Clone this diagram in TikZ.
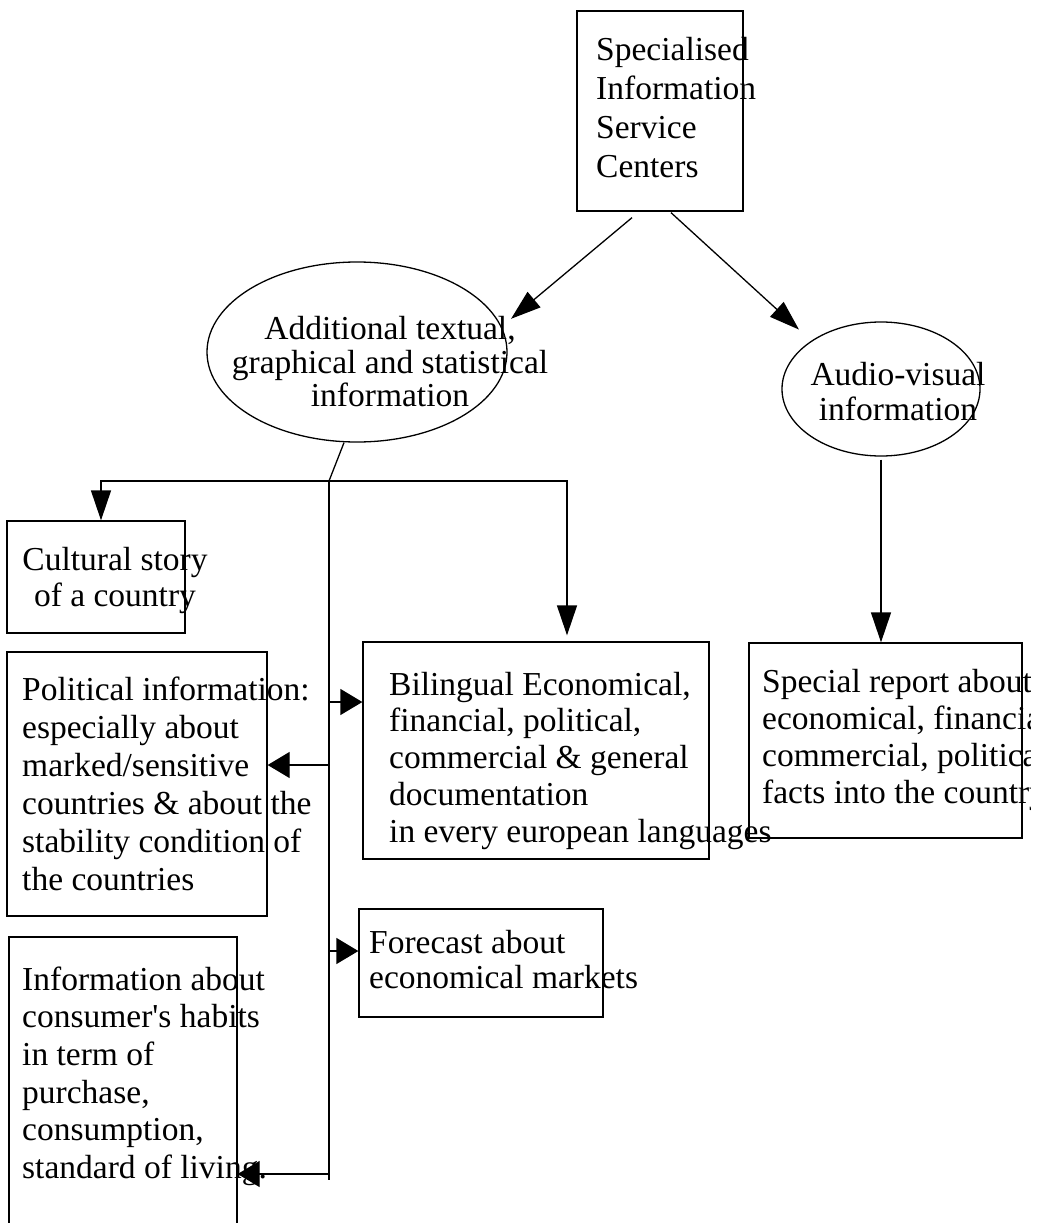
\documentclass[tikz,border=0pt]{standalone}
\usepackage{fontspec}
\setmainfont{Liberation Serif}
\usetikzlibrary{shapes.geometric,arrows.meta}
\tikzset{
  box/.style={draw=black, line width=1.3pt, rectangle, inner sep=0pt},
  oval/.style={draw=black, line width=1.3pt, ellipse, inner sep=0pt},
  txt/.style={anchor=north west, inner sep=0pt, align=left, font=\fontsize{33.5}{#1}\selectfont},
  ctxt/.style={anchor=north, inner sep=0pt, align=center, font=\fontsize{33.5}{#1}\selectfont},
  wire/.style={black, line width=1.3pt},
  arr/.style={wire, -{Triangle[length=30pt,width=20pt]}},
  side/.style={wire, -{Triangle[length=22pt,width=26pt]}}
}
\begin{document}
\begin{tikzpicture}[x=1pt,y=-1pt]
\useasboundingbox (0,0) rectangle (1041,1223);
\clip (0,0) rectangle (1030,1223);

\node[box, minimum width=166, minimum height=200] (centers) at (660,111) {};
\node[oval, minimum width=300, minimum height=180] (additional) at (357,352) {};
\node[oval, minimum width=198, minimum height=134] (audio) at (881,389) {};
\node[box, minimum width=178, minimum height=112] (cultural) at (96,577) {};
\node[box, minimum width=260, minimum height=264] (political) at (137,784) {};
\node[box, minimum width=346, minimum height=217] (bilingual) at (536,750.5) {};
\node[box, minimum width=273, minimum height=195] (special) at (885.5,740.5) {};
\node[box, minimum width=244, minimum height=108] (forecast) at (481,963) {};
\node[box, minimum width=228, minimum height=323] (info) at (123,1098.5) {};

\node[txt=39] (centersTxt) at (596,32.7) {\strut Specialised\\Information\\Service\\Centers};
\node[ctxt=33] (additionalTxt) at (390,315.9) {\strut Additional textual,\\graphical and statistical\\information};
\node[ctxt=35] (audioTxt) at (898,360.5) {\strut Audio-visual\\information};
\node[ctxt=36] (culturalTxt) at (115,544.8) {\strut Cultural story\\of a country};
\node[txt=38] (politicalTxt) at (22,673.4) {\strut Political information:\\especially about\\marked/sensitive\\countries \& about the\\stability condition of\\the countries};
\node[txt=36.75] (bilingualTxt) at (389,669.3) {\strut Bilingual Economical,\\financial, political,\\commercial \& general\\documentation\\in every european languages};
\node[txt=37] (specialTxt) at (762,666.1) {\strut Special report about\\economical, financial,\\commercial, political\\facts into the country};
\node[txt=35] (forecastTxt) at (369,928.5) {\strut Forecast about\\economical markets};
\node[txt=37.6] (infoTxt) at (22,963.7) {\strut Information about\\consumer\textquotesingle s habits\\in term of\\purchase,\\consumption,\\standard of living.};

\coordinate (split) at (329,481);
\coordinate (b1) at (329,702);
\coordinate (b2) at (329,765);
\coordinate (b3) at (329,951);
\coordinate (b4) at (329,1174);
\coordinate (trunkend) at (329,1180);

\draw[arr] ([xshift=-28pt,yshift=-6pt]centers.south) -- ([xshift=12pt,yshift=3pt]additional.12);
\draw[arr] ([xshift=11pt,yshift=-1pt]centers.south) -- ([xshift=-14pt,yshift=10pt]audio.144);
\draw[wire] ([xshift=-13pt]additional.south) -- (split);
\draw[arr] (split) -| ([xshift=5pt]cultural.north);
\draw[arr] (split) -| ([xshift=31pt,yshift=6pt]bilingual.north);
\draw[wire] (split) -- (trunkend);
\draw[side] (b1) -- (b1 -| bilingual.west);
\draw[side] (b2) -- (b2 -| political.east);
\draw[side] (b3) -- (b3 -| forecast.west);
\draw[side] (b4) -- (b4 -| info.east);
\draw[arr] ([yshift=-3pt]audio.south) -- (audio.south |- special.north);
\end{tikzpicture}
\end{document}
